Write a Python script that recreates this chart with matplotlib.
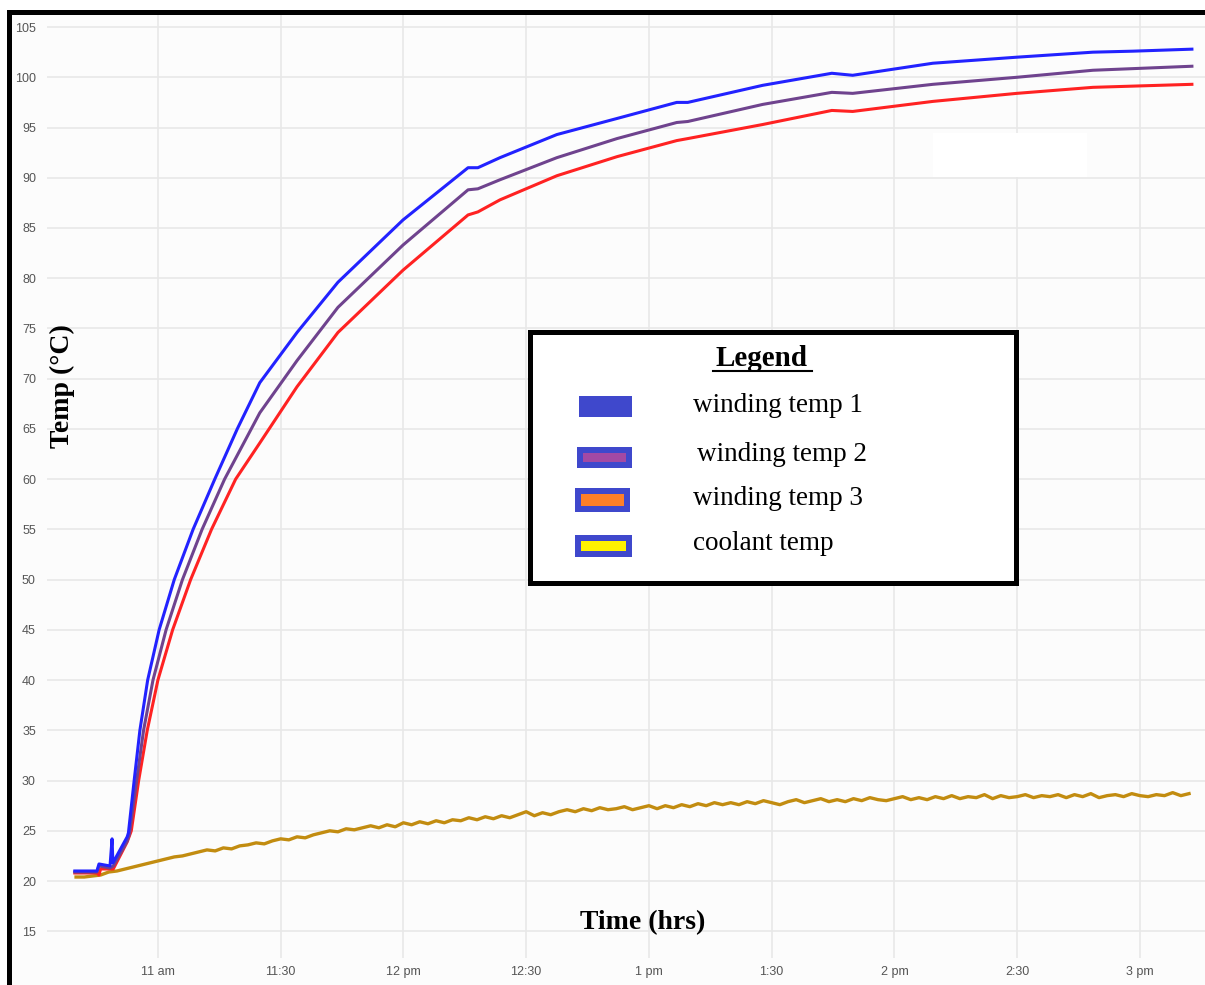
import numpy as np
import matplotlib.pyplot as plt
from matplotlib.patches import Rectangle
from matplotlib.lines import Line2D

# --- data: time in minutes after 10:00, temperatures in degC ---
w1_t = [39.7, 45.1, 45.6, 48.3, 48.8, 49.0, 52.5, 52.8, 54.2, 55.6, 57.5, 60.3, 64.0,
        68.6, 73.9, 79.4, 84.9, 94.0, 104.0, 119.9, 135.8, 138.2, 143.6, 157.5, 172.2,
        186.8, 189.5, 207.8, 224.7, 229.8, 249.4, 269.9, 288.5, 298.3, 312.7]
w1_v = [21.0, 21.0, 21.7, 21.5, 24.2, 21.8, 24.4, 24.8, 30.0, 35.0, 40.0, 45.0, 50.0,
        55.0, 60.0, 65.0, 69.6, 74.6, 79.6, 85.8, 91.0, 91.0, 92.0, 94.3, 95.9,
        97.5, 97.5, 99.2, 100.4, 100.2, 101.4, 102.0, 102.5, 102.6, 102.8]

w2_t = [39.7, 45.1, 45.6, 48.3, 49.1, 52.5, 53.0, 54.8, 56.5, 58.8, 62.0, 66.0, 70.8,
        76.3, 84.9, 94.0, 104.0, 119.9, 135.8, 138.2, 143.6, 157.5, 172.2, 186.8,
        189.5, 207.8, 224.7, 229.8, 249.4, 269.9, 288.5, 312.7]
w2_v = [20.9, 20.9, 21.5, 21.3, 21.5, 24.0, 24.6, 30.0, 35.0, 40.0, 45.0, 50.0, 55.0,
        60.0, 66.6, 71.8, 77.1, 83.3, 88.8, 88.9, 89.8, 92.0, 93.9, 95.5,
        95.6, 97.3, 98.5, 98.4, 99.3, 100.0, 100.7, 101.1]

w3_t = [39.7, 45.1, 45.6, 46.0, 48.3, 49.1, 52.5, 53.5, 55.3, 57.4, 60.0, 63.6, 68.0,
        73.1, 79.0, 84.9, 94.0, 104.0, 119.9, 135.8, 138.2, 143.6, 157.5, 172.2,
        186.8, 189.5, 207.8, 224.7, 229.8, 249.4, 269.9, 288.5, 312.7]
w3_v = [20.8, 20.8, 20.6, 21.2, 21.2, 21.2, 23.9, 25.0, 30.0, 35.0, 40.0, 45.0, 50.0,
        55.0, 60.0, 63.6, 69.2, 74.6, 80.8, 86.3, 86.6, 87.8, 90.2, 92.1,
        93.7, 93.9, 95.3, 96.7, 96.6, 97.6, 98.4, 99.0, 99.3]

# coolant logged every 2 minutes from 10:40
cool_t0, cool_dt = 40, 2
cool_v = [20.4, 20.4, 20.5, 20.6, 20.9, 21.0, 21.2, 21.4, 21.6, 21.8, 22.0, 22.2, 22.4, 22.5, 22.7,
          22.9, 23.1, 23.0, 23.3, 23.2, 23.5, 23.6, 23.8, 23.7, 24.0, 24.2, 24.1, 24.4, 24.3, 24.6, 24.8,
          25.0, 24.9, 25.2, 25.1, 25.3, 25.5, 25.3, 25.6, 25.4, 25.8,
          25.6, 25.9, 25.7, 26.0, 25.8, 26.1, 26.0, 26.3, 26.1, 26.4, 26.2, 26.5, 26.3, 26.6, 26.9,
          26.5, 26.8, 26.6, 26.9, 27.1,
          26.9, 27.2, 27.0, 27.3, 27.1, 27.2, 27.4, 27.1, 27.3, 27.5, 27.2, 27.5, 27.3, 27.6, 27.4,
          27.7, 27.5, 27.8, 27.6, 27.8,
          27.6, 27.9, 27.7, 28.0, 27.8, 27.6, 27.9, 28.1, 27.8, 28.0, 28.2, 27.9, 28.1, 27.9, 28.2,
          28.0, 28.3, 28.1, 28.0, 28.2,
          28.4, 28.1, 28.3, 28.1, 28.4, 28.2, 28.5, 28.2, 28.4, 28.3, 28.6, 28.2, 28.5, 28.3, 28.4,
          28.6, 28.3, 28.5, 28.4, 28.6,
          28.3, 28.6, 28.4, 28.7, 28.3, 28.5, 28.6, 28.4, 28.7, 28.5, 28.4, 28.6, 28.5, 28.8, 28.5, 28.7]
cool_t = cool_t0 + cool_dt * np.arange(len(cool_v))

tick_min = [60, 90, 120, 150, 180, 210, 240, 270, 300]
tick_lbl = ["11 am", "11:30", "12 pm", "12:30", "1 pm", "1:30", "2 pm", "2:30", "3 pm"]
y_ticks = list(range(15, 106, 5))

names = ["winding temp 1", "winding temp 2", "winding temp 3", "coolant temp"]
swatch_fill = ["#3f48cc", "#a349a4", "#ff7f27", "#fff200"]

# --- figure in pixel units ---
W, H = 1205, 985
fig = plt.figure(figsize=(W / 100, H / 100), dpi=100, facecolor="#fcfcfc")


def fx(x):
    return x / W


def fy(y):
    return 1 - y / H


def prect(x0, y0, x1, y1, **kw):
    r = Rectangle((fx(x0), fy(y1)), fx(x1) - fx(x0), fy(y0) - fy(y1),
                  transform=fig.transFigure, **kw)
    fig.patches.append(r)
    return r


ax = fig.add_axes([fx(47), fy(958), fx(1205) - fx(47), fy(15) - fy(958)])
ax.set_facecolor("#fcfcfc")
ax.plot(cool_t, cool_v, color="#c28c10", lw=2.4)
ax.plot(w3_t, w3_v, color="#ff2222", lw=2.2)
ax.plot(w2_t, w2_v, color="#6f438e", lw=2.2)
ax.plot(w1_t, w1_v, color="#2222ff", lw=2.2)
ax.set_xlim(32.9, 315.9)
ax.set_ylim(12.34, 106.2)
ax.set_xticks(tick_min, tick_lbl)
ax.set_yticks(y_ticks)
ax.tick_params(length=0, labelsize=9, labelcolor="#555555")
ax.tick_params(axis="y", pad=8)
ax.tick_params(axis="x", pad=6)
for lab in ax.get_xticklabels() + ax.get_yticklabels():
    lab.set_family("Liberation Sans")
ax.grid(color="#e8e8e8", lw=1.2)
ax.set_axisbelow(True)
for s in ax.spines.values():
    s.set_visible(False)

# erased patch
prect(933, 133, 1087, 177, facecolor="white", edgecolor="none", zorder=2)

# axis labels drawn inside the plot
fig.text(fx(62), fy(386), "Temp (°C)", rotation=90, ha="center", va="center",
         fontsize=20, fontweight="bold", family="Liberation Serif")
fig.text(fx(643), fy(923), "Time (hrs)", ha="center", va="center",
         fontsize=20, fontweight="bold", family="Liberation Serif")

# hand-drawn legend box
prect(529.5, 332.5, 1015.5, 582.5, facecolor="white", edgecolor="black",
      lw=3.6, zorder=3)
fig.text(fx(762), fy(366), "Legend", ha="center", va="baseline", fontsize=21,
         fontweight="bold", family="Liberation Serif", zorder=4)
fig.lines.append(Line2D([fx(713), fx(812)], [fy(371), fy(371)], color="black",
                        lw=1.5, transform=fig.transFigure, zorder=4))

sw_outer = [(579, 396, 632, 417), (577, 447, 632, 468), (575, 488, 630, 512), (575, 535, 632, 557)]
txt_pos = [(693, 412), (697, 461), (693, 505), (693, 550)]
for name, col, (x0, y0, x1, y1), (tx, ty) in zip(names, swatch_fill, sw_outer, txt_pos):
    prect(x0, y0, x1, y1, facecolor=swatch_fill[0], edgecolor="none", zorder=4)
    prect(x0 + 6, y0 + 6, x1 - 6, y1 - 6, facecolor=col, edgecolor="none", zorder=5)
    fig.text(fx(tx), fy(ty), name, ha="left", va="baseline", fontsize=19.5,
             family="Liberation Serif", zorder=5)

# outer frame: white margin and thick black left/top border
prect(0, 0, 7, H, facecolor="white", edgecolor="none", zorder=6)
prect(0, 0, W, 10, facecolor="white", edgecolor="none", zorder=6)
prect(7, 10, 12, H, facecolor="black", edgecolor="none", zorder=7)
prect(7, 10, W, 15, facecolor="black", edgecolor="none", zorder=7)

fig.savefig("out.png", dpi=100, facecolor=fig.get_facecolor())
